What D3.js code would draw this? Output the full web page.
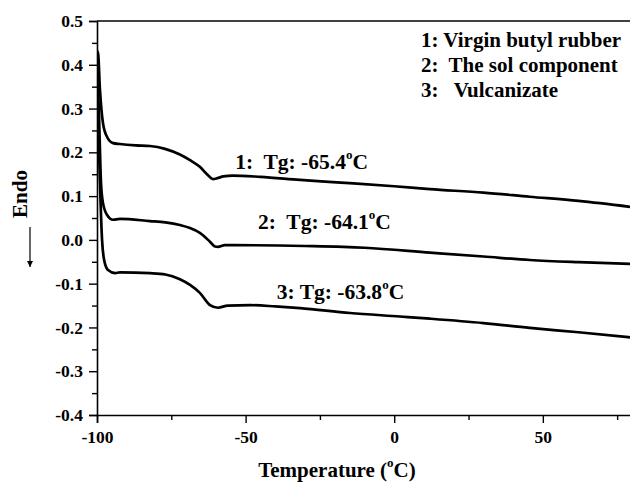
<!DOCTYPE html>
<html>
<head>
<meta charset="utf-8">
<script src="https://cdn.jsdelivr.net/npm/d3@7"></script>
<style>
  html, body { margin: 0; padding: 0; background: #fff; }
  svg { display: block; }
  text { font-family: "Liberation Serif", "Times New Roman", serif; font-weight: bold; fill: #000; }
</style>
</head>
<body>
<svg id="chart" width="630" height="485"></svg>
<script>
// DSC heat-flow traces (Endo up), temperature in °C
const temps1 = [-100, -99.7, -99.0, -98.0, -96.6, -94.6, -92.3, -87, -82.2, -77.1, -72.1, -68.7, -65.4, -63.0, -61.0, -59.5, -57.5, -54.3, -45, -31.7, -20.7, 0, 12.0, 30, 45.6, 62, 80];
const heat1  = [0.41, 0.43, 0.342, 0.267, 0.235, 0.221, 0.219, 0.216, 0.2145, 0.208, 0.195, 0.182, 0.167, 0.150, 0.139, 0.141, 0.145, 0.147, 0.144, 0.137, 0.132, 0.1225, 0.116, 0.108, 0.0986, 0.089, 0.075];

const temps2 = [-100, -99.4, -98.65, -97.98, -96.6, -94.6, -92.3, -82.2, -77, -72.1, -68.7, -65.4, -62.0, -60.3, -59.3, -57, -54, -30, -10, 12, 30, 45.6, 62, 80];
const heat2  = [0.40, 0.30, 0.130, 0.084, 0.057, 0.046, 0.048, 0.043, 0.040, 0.034, 0.027, 0.016, -0.004, -0.015, -0.016, -0.012, -0.012, -0.014, -0.018, -0.029, -0.038, -0.046, -0.051, -0.055];

const temps3 = [-100, -99.3, -98.3, -97.6, -96.3, -93.9, -92.3, -82.2, -77, -72.1, -68.7, -65.4, -62.0, -59.3, -56, -48.5, -40, -31.7, -14.9, 1.9, 12, 30, 45.6, 62, 80];
const heat3  = [0.37, 0.20, 0.0, -0.046, -0.069, -0.076, -0.074, -0.076, -0.079, -0.090, -0.103, -0.121, -0.149, -0.155, -0.150, -0.149, -0.152, -0.156, -0.167, -0.175, -0.180, -0.190, -0.201, -0.211, -0.223];

const seriesTemps = [temps1, temps2, temps3];
const seriesHeat = [heat1, heat2, heat3];

const tgLabels = ["1:  Tg: -65.4", "2:  Tg: -64.1", "3: Tg: -63.8"];
const legendLines = ["1: Virgin butyl rubber", "2:  The sol component", "3:   Vulcanizate"];

const xMajor = [-100, -50, 0, 50];
const xMinor = [-75, -25, 25, 75];
const yMajor = [-0.4, -0.3, -0.2, -0.1, 0.0, 0.1, 0.2, 0.3, 0.4, 0.5];
const yMinor = [-0.35, -0.25, -0.15, -0.05, 0.05, 0.15, 0.25, 0.35, 0.45];

const svg = d3.select("#chart");
const W = 630, H = 485;
const plotLeft = 97, plotTop = 21, plotBottom = 415;

const x = d3.scaleLinear().domain([-100, 80]).range([plotLeft, 632]);
const y = d3.scaleLinear().domain([-0.4, 0.5]).range([plotBottom, plotTop]);

const defs = svg.append("defs");
// clip the traces to the plotting area
defs.append("clipPath").attr("id", "plotClip")
  .append("rect").attr("x", plotLeft).attr("y", plotTop)
  .attr("width", W - plotLeft).attr("height", plotBottom - plotTop);

// frame line along the top
svg.append("line")
  .attr("x1", plotLeft).attr("x2", W).attr("y1", plotTop).attr("y2", plotTop)
  .attr("stroke", "#000").attr("stroke-width", 1.6);

// y axis
svg.append("g").attr("transform", `translate(${plotLeft},0)`)
  .call(d3.axisLeft(y).tickValues(yMajor).tickSize(8).tickPadding(6)
    .tickFormat(d => d.toFixed(1)));
const yMinorAxis = svg.append("g").attr("transform", `translate(${plotLeft},0)`)
  .call(d3.axisLeft(y).tickValues(yMinor).tickSize(5).tickFormat(""));
yMinorAxis.select(".domain").remove();

// x axis
svg.append("g").attr("transform", `translate(0,${plotBottom})`)
  .call(d3.axisBottom(x).tickValues(xMajor).tickSize(8).tickPadding(8)
    .tickFormat(d => String(d)));
const xMinorAxis = svg.append("g").attr("transform", `translate(0,${plotBottom})`)
  .call(d3.axisBottom(x).tickValues(xMinor).tickSize(5).tickFormat(""));
xMinorAxis.select(".domain").remove();

svg.selectAll(".domain").attr("stroke", "#000").attr("stroke-width", 1.6);
svg.selectAll(".tick line").attr("stroke", "#000").attr("stroke-width", 1.4);
svg.selectAll(".tick text")
  .style("font-family", "'Liberation Serif', 'Times New Roman', serif")
  .style("font-weight", "bold")
  .style("font-size", "17.5px")
  .attr("fill", "#000");

// traces
const line = d3.line().x(d => x(d[0])).y(d => y(d[1])).curve(d3.curveMonotoneX);
const traces = svg.append("g").attr("clip-path", "url(#plotClip)");
seriesTemps.forEach((ts, i) => {
  const pts = ts.map((t, j) => [t, seriesHeat[i][j]]);
  traces.append("path")
    .datum(pts)
    .attr("d", line)
    .attr("fill", "none")
    .attr("stroke", "#000")
    .attr("stroke-width", 2.7)
    .attr("stroke-linejoin", "round");
});

// Tg annotations beside each trace
const tgPos = [[-53.5, 0.163], [-45.8, 0.024], [-39.5, -0.136]];
tgLabels.forEach((s, i) => {
  const t = svg.append("text")
    .attr("x", x(tgPos[i][0])).attr("y", y(tgPos[i][1]))
    .attr("xml:space", "preserve")
    .style("white-space", "pre")
    .style("font-size", "21.5px");
  t.append("tspan").text(s);
  t.append("tspan").text("o").style("font-size", "13px").attr("dy", -10);
  t.append("tspan").text("C").attr("dy", 10);
});

// legend text in the upper right
legendLines.forEach((s, i) => {
  svg.append("text")
    .attr("x", 421).attr("y", 47 + i * 25)
    .attr("xml:space", "preserve")
    .style("white-space", "pre")
    .style("font-size", "21px")
    .text(s);
});

// x axis title
const xt = svg.append("text")
  .attr("x", 337).attr("y", 477)
  .attr("text-anchor", "middle")
  .style("font-size", "21px");
xt.append("tspan").text("Temperature (");
xt.append("tspan").text("o").style("font-size", "13px").attr("dy", -10);
xt.append("tspan").text("C)").attr("dy", 10);

// y axis title with downward arrow
svg.append("text")
  .attr("transform", "translate(27,194) rotate(-90)")
  .attr("text-anchor", "middle")
  .style("font-size", "21px")
  .text("Endo");

defs.append("marker")
  .attr("id", "arrowHead").attr("viewBox", "0 0 10 10")
  .attr("refX", 10).attr("refY", 5)
  .attr("markerWidth", 6).attr("markerHeight", 10)
  .attr("markerUnits", "userSpaceOnUse")
  .attr("orient", "auto")
  .append("path").attr("d", "M0,0 L10,5 L0,10 Z").attr("fill", "#000");

svg.append("line")
  .attr("x1", 30).attr("x2", 30).attr("y1", 227).attr("y2", 267)
  .attr("stroke", "#000").attr("stroke-width", 1.2)
  .attr("marker-end", "url(#arrowHead)");
</script>
</body>
</html>
